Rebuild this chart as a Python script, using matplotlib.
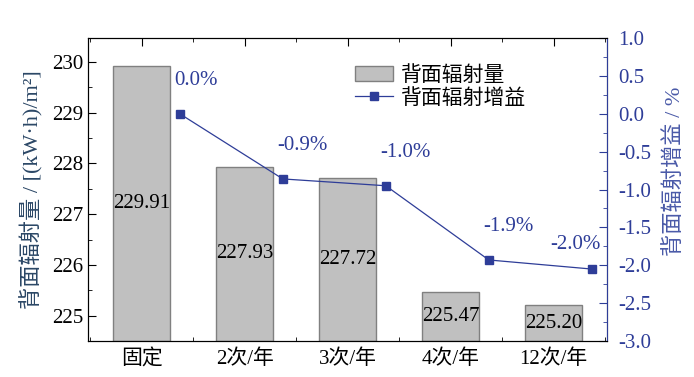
import numpy as np
import matplotlib
matplotlib.use('Agg')
import matplotlib.pyplot as plt
from matplotlib.ticker import MultipleLocator

plt.rcParams['font.family'] = ['Liberation Serif', 'Noto Sans CJK SC']
plt.rcParams['axes.unicode_minus'] = False

categories = ['固定', '2次/年', '3次/年', '4次/年', '12次/年']
radiation = [229.91, 227.93, 227.72, 225.47, 225.20]
gain = [0.0, -0.86, -0.95, -1.93, -2.05]
gain_labels = ['0.0%', '-0.9%', '-1.0%', '-1.9%', '-2.0%']

blue = '#2E3D98'
x = np.arange(len(categories))

fig = plt.figure(figsize=(6.94, 3.77), dpi=100)
ax = fig.add_axes([0.127, 0.0955, 0.748, 0.8035])
ax2 = ax.twinx()

bottom = 224.5
bars = ax.bar(x, np.array(radiation) - bottom, bottom=bottom, width=0.55,
              color='#C0C0C0', edgecolor='#808080', linewidth=1.0, zorder=2)
for xi, v in zip(x, radiation):
    ax.text(xi, (bottom + v) / 2, f'{v:.2f}', ha='center', va='center',
            fontsize=15, color='black', zorder=3)

ax.set_xlim(-0.52, 4.52)
ax.set_ylim(224.5, 230.47)
ax.set_xticks(x)
ax.set_xticklabels(categories, fontsize=15)
ax.xaxis.set_minor_locator(MultipleLocator(0.5))
ax.yaxis.set_major_locator(MultipleLocator(1))
ax.yaxis.set_minor_locator(MultipleLocator(0.5))
ax.tick_params(axis='both', which='both', direction='in', top=True, labelsize=15)
ax.tick_params(axis='x', which='major', length=6, pad=6)
ax.tick_params(axis='x', which='minor', length=3)
ax.tick_params(axis='y', which='major', length=6, right=False)
ax.tick_params(axis='y', which='minor', length=3, right=False)
ax.set_ylabel('背面辐射量 / [(kW·h)/m²]', fontsize=16, color='#2B4766', labelpad=6)

# gain line (drawn slightly offset to the right of the bars)
lx = x + 0.37
line, = ax2.plot(lx, gain, color=blue, linewidth=0.9, marker='s', markersize=5.5,
                 markerfacecolor=blue, markeredgecolor=blue)
for i, (xi, g, lab) in enumerate(zip(lx, gain, gain_labels)):
    if i == len(gain) - 1:
        ax2.annotate(lab, (xi, g), xytext=(6, 18), textcoords='offset points',
                     ha='right', va='center', fontsize=15, color=blue)
    else:
        ax2.annotate(lab, (xi, g), xytext=(-4, 24), textcoords='offset points',
                     ha='left', va='center', fontsize=15, color=blue)

ax2.set_ylim(-3.0, 1.0)
ax2.yaxis.set_major_locator(MultipleLocator(0.5))
ax2.yaxis.set_minor_locator(MultipleLocator(0.25))
ax2.yaxis.set_major_formatter(plt.FormatStrFormatter('%.1f'))
ax2.tick_params(axis='y', which='both', direction='in', colors=blue, labelsize=15)
ax2.tick_params(axis='y', which='major', length=6, pad=8)
ax2.tick_params(axis='y', which='minor', length=3)
ax2.spines['right'].set_color(blue)
ax2.set_ylabel('背面辐射增益 / %', fontsize=16, color='#4A5AA8')
ax2.yaxis.set_label_coords(1.11, 0.56)

ax.legend([bars, line], ['背面辐射量', '背面辐射增益'], loc='upper left',
          bbox_to_anchor=(0.49, 0.95), frameon=False, fontsize=15,
          handlelength=1.8, handletextpad=0.4, borderaxespad=0.2,
          labelspacing=0.15)

fig.savefig('out.png', dpi=100)
